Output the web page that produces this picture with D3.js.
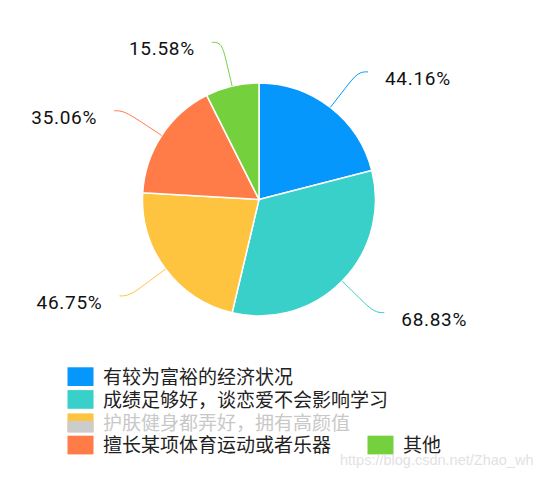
<!DOCTYPE html>
<html><head><meta charset="utf-8">
<script src="https://cdn.jsdelivr.net/npm/d3@7"></script>
<style>html,body{margin:0;padding:0;background:#fff;}svg{display:block;}</style>
</head><body>
<svg id="chart" width="559" height="477"></svg>
<script>
const categories = ["有较为富裕的经济状况","成绩足够好，谈恋爱不会影响学习","护肤健身都弄好，拥有高颜值","擅长某项体育运动或者乐器","其他"];
const values = [44.16, 68.83, 46.75, 35.06, 15.58];
const labels = ["44.16%","68.83%","46.75%","35.06%","15.58%"];
const colors = ["#0597fc","#38d0c8","#fec43f","#ff7b48","#75d03e"];
const watermark = "https://blog.csdn.net/Zhao_wh";

const svg = d3.select("#chart");
const cx = 259, cy = 199.5, R = 116.5;
const g = svg.append("g").attr("transform", `translate(${cx},${cy})`);

const pie = d3.pie().sort(null).value(d => d);
const arcs = pie(values);
const arc = d3.arc().innerRadius(0).outerRadius(R);

g.selectAll("path.slice").data(arcs).enter().append("path")
  .attr("class","slice")
  .attr("d", arc)
  .attr("fill", (d,i) => colors[i])
  .attr("stroke", "#fff").attr("stroke-width", 1.5).attr("stroke-linejoin","round");

const R2 = R + 45, H = 10;
const line = d3.line().curve(d3.curveBasis);
arcs.forEach((d,i) => {
  const a = (d.startAngle + d.endAngle)/2;
  const s = Math.sin(a), c = -Math.cos(a);
  const p1 = [R*s, R*c];
  const pm = [(R+25)*s, (R+25)*c];
  const p2 = [R2*s, R2*c];
  const dir = s >= 0 ? 1 : -1;
  const p3 = [p2[0] + dir*H, p2[1]];
  g.append("path").attr("d", line([p1, pm, p2, p3]))
    .attr("fill","none").attr("stroke", colors[i]).attr("stroke-width",1);
  const tx = p3[0] + dir*17, ty = p3[1] + 13;
  g.append("text").attr("x", tx).attr("y", ty)
    .attr("text-anchor", dir > 0 ? "start" : "end")
    .attr("font-family","Roboto, sans-serif").attr("font-size",19)
    .attr("letter-spacing", 0.7)
    .attr("fill","#111").text(labels[i]);
});

// legend
const lx = 67.5, iw = 26, ih = 18.7, pitch = 22.8, y0 = 367.3;
const legendPos = [
  {x: lx, row: 0}, {x: lx, row: 1}, {x: lx, row: 2}, {x: lx, row: 3}, {x: 367.5, row: 3}
];
const lg = svg.append("g");
categories.forEach((name,i) => {
  const p = legendPos[i];
  const y = y0 + p.row*pitch + (p.row===2 ? 0.5 : 0);
  lg.append("rect").attr("x", p.x).attr("y", y).attr("width", iw).attr("height", ih).attr("fill", colors[i]);
  let fill = "#222";
  if (i === 2) {
    lg.append("rect").attr("x", p.x).attr("y", y + 7.5).attr("width", iw).attr("height", ih - 7.5 + 0.5).attr("fill", "#cccccc");
    fill = "#c8c8c8";
  }
  lg.append("text").attr("x", p.x + 35.5).attr("y", y + ih/2 + 7.2)
    .attr("font-family","'Noto Sans CJK SC', sans-serif").attr("font-size",19)
    .attr("fill", fill).text(name);
});

svg.append("text").attr("x", 340).attr("y", 464.5)
  .attr("font-family","Arial, 'Liberation Sans', sans-serif").attr("font-size",14.5)
  .attr("fill","#e2e2e2").text(watermark);
</script>
</body></html>
